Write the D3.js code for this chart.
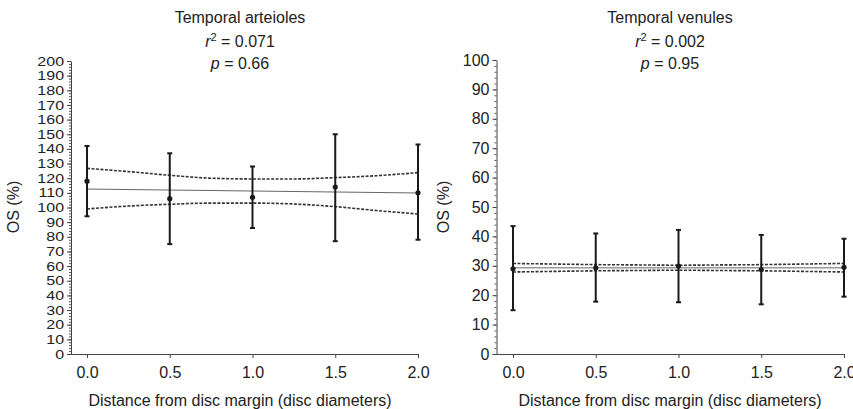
<!DOCTYPE html>
<html>
<head>
<meta charset="utf-8">
<script src="https://cdn.jsdelivr.net/npm/d3@7"></script>
<style>
  body { margin: 0; background: #fff; }
  svg { font-family: "Liberation Sans", Arial, sans-serif; }
</style>
</head>
<body>
<div id="chart"></div>
<script>
// distances (disc diameters)
const distances = [0, 0.5, 1.0, 1.5, 2.0];
const bandX = [0, 0.25, 0.5, 0.75, 1.0, 1.25, 1.5, 1.75, 2.0];

// Temporal arterioles
const artMean = [118, 106, 107, 114, 110];
const artHigh = [142, 137, 128, 150, 143];
const artLow = [94, 75, 86, 77, 78];
const artFit = [112.6, 109.9];
const artBandHi = [126.7, 124.5, 122, 120, 119.5, 119.5, 120.4, 121.7, 123.8];
const artBandLo = [99, 101, 102.2, 103, 103, 102.4, 100.6, 97.9, 95.6];

// Temporal venules
const venMean = [29.0, 29.3, 29.9, 28.7, 29.5];
const venHigh = [43.5, 41, 42.2, 40.5, 39.2];
const venLow = [14.9, 17.8, 17.6, 16.9, 19.5];
const venFit = [29.3, 29.3];
const venBandHi = [30.8, 30.6, 30.4, 30.3, 30.2, 30.3, 30.4, 30.6, 30.8];
const venBandLo = [27.9, 28.1, 28.3, 28.4, 28.5, 28.4, 28.3, 28.1, 27.9];

const width = 853, height = 409;
const fs = "16px";

const svg = d3.select("#chart")
  .append("svg")
  .attr("width", width)
  .attr("height", height);

function drawPanel(p) {
  const x = d3.scaleLinear().domain([0, 2]).range([p.x0, p.x1]);
  const y = d3.scaleLinear().domain([0, p.yMax]).range([354, p.yTop]);
  const g = svg.append("g");

  // y axis, minor ticks
  g.append("g")
    .attr("transform", `translate(${p.axisX},0)`)
    .call(d3.axisLeft(y).tickValues(d3.range(0, p.yMax + 1, 2)).tickSize(2).tickFormat(""))
    .call(a => a.select(".domain").remove())
    .call(a => a.selectAll("line").attr("stroke", "#555"));

  // y axis, major ticks
  const yAx = g.append("g")
    .attr("transform", `translate(${p.axisX},0)`)
    .call(d3.axisLeft(y).tickValues(d3.range(0, p.yMax + 1, 10)).tickSize(4).tickSizeOuter(0).tickPadding(3))
    .call(a => a.select(".domain").attr("stroke", "#444"))
    .call(a => a.selectAll("line").attr("stroke", "#444"));
  yAx.selectAll("text")
    .attr("fill", "#222")
    .style("font-size", fs)
    .attr("transform", `scale(1,${p.labelSquash})`);

  // x axis
  const xAx = g.append("g")
    .attr("transform", "translate(0,354)")
    .call(d3.axisBottom(x).tickValues(distances).tickFormat(d3.format(".1f")).tickSize(4).tickPadding(9));
  xAx.select(".domain").remove();
  xAx.selectAll("line").attr("stroke", "#444");
  xAx.selectAll("text").attr("fill", "#222").style("font-size", fs);
  g.append("line")
    .attr("x1", p.axisX).attr("x2", x(2))
    .attr("y1", 354.5).attr("y2", 354.5)
    .attr("stroke", "#444");

  // titles
  const t = g.append("text")
    .attr("text-anchor", "middle")
    .attr("fill", "#222")
    .style("font-size", fs);
  t.append("tspan").attr("x", p.titleX).attr("y", 23).text(p.title);
  const r = t.append("tspan").attr("x", p.titleX).attr("y", 47);
  r.append("tspan").style("font-style", "italic").text("r");
  r.append("tspan").attr("dy", -6).style("font-size", "11px").text("2");
  r.append("tspan").attr("dy", 6).text(" = " + p.r2);
  const pl = t.append("tspan").attr("x", p.titleX).attr("y", 69);
  pl.append("tspan").style("font-style", "italic").text("p");
  pl.append("tspan").text(" = " + p.pval);

  g.append("text")
    .attr("transform", `translate(${p.ylabX},207) rotate(-90)`)
    .attr("text-anchor", "middle")
    .attr("fill", "#222")
    .style("font-size", fs)
    .text("OS (%)");

  g.append("text")
    .attr("x", p.titleX)
    .attr("y", 406)
    .attr("text-anchor", "middle")
    .attr("fill", "#222")
    .style("font-size", fs)
    .text("Distance from disc margin (disc diameters)");

  // regression line
  g.append("line")
    .attr("x1", x(0)).attr("x2", x(2))
    .attr("y1", y(p.fit[0])).attr("y2", y(p.fit[1]))
    .attr("stroke", "#666")
    .attr("stroke-width", 1);

  // confidence bands
  const band = d3.line()
    .x((d, i) => x(bandX[i]))
    .y(d => y(d))
    .curve(d3.curveMonotoneX);
  [p.bandHi, p.bandLo].forEach(b => {
    g.append("path")
      .attr("d", band(b))
      .attr("fill", "none")
      .attr("stroke", "#333")
      .attr("stroke-width", 1.6)
      .attr("stroke-dasharray", "3,1.5");
  });

  // error bars
  const bars = g.selectAll(".bar")
    .data(distances.map((d, i) => ({ x: d, m: p.mean[i], hi: p.high[i], lo: p.low[i] })))
    .enter().append("g");
  bars.append("line")
    .attr("x1", d => x(d.x)).attr("x2", d => x(d.x))
    .attr("y1", d => y(d.hi)).attr("y2", d => y(d.lo))
    .attr("stroke", "#1a1a1a").attr("stroke-width", 2);
  ["hi", "lo"].forEach(k => {
    bars.append("line")
      .attr("x1", d => x(d.x) - 2.5).attr("x2", d => x(d.x) + 2.5)
      .attr("y1", d => y(d[k])).attr("y2", d => y(d[k]))
      .attr("stroke", "#1a1a1a").attr("stroke-width", 2);
  });
  bars.append("circle")
    .attr("cx", d => x(d.x)).attr("cy", d => y(d.m))
    .attr("r", 2.6)
    .attr("fill", "#1a1a1a");
}

drawPanel({
  title: "Temporal arteioles", r2: "0.071", pval: "0.66",
  x0: 87, x1: 418, axisX: 71, yMax: 200, yTop: 61, labelSquash: 0.8,
  titleX: 240, ylabX: 19,
  mean: artMean, high: artHigh, low: artLow, fit: artFit,
  bandHi: artBandHi, bandLo: artBandLo
});

drawPanel({
  title: "Temporal venules", r2: "0.002", pval: "0.95",
  x0: 513, x1: 844, axisX: 496.5, yMax: 100, yTop: 60, labelSquash: 1,
  titleX: 670, ylabX: 449,
  mean: venMean, high: venHigh, low: venLow, fit: venFit,
  bandHi: venBandHi, bandLo: venBandLo
});
</script>
</body>
</html>
